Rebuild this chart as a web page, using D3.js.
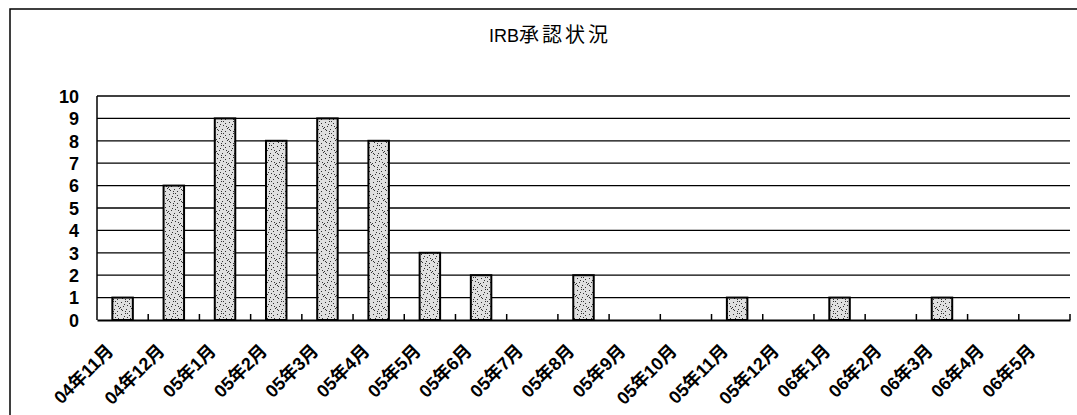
<!DOCTYPE html>
<html><head><meta charset="utf-8">
<script src="https://cdn.jsdelivr.net/npm/d3@7"></script>
<style>body{margin:0;background:#fff}</style>
</head><body>
<svg id="c" width="1077" height="415"></svg>
<script>
const categories = ["04年11月","04年12月","05年1月","05年2月","05年3月","05年4月","05年5月","05年6月","05年7月","05年8月","05年9月","05年10月","05年11月","05年12月","06年1月","06年2月","06年3月","06年4月","06年5月"];
const values = [1,6,9,8,9,8,3,2,0,2,0,0,1,0,1,0,1,0,0];
const yTicks = [0,1,2,3,4,5,6,7,8,9,10];
const titleLatin = "IRB";
const titleKanji = "承認状況";

const svg = d3.select("#c");
const m = {l:97, r:1070, t:96, b:320};
const font = "'Liberation Sans', Arial, 'Noto Sans CJK JP', sans-serif";

// stipple pattern
const defs = svg.append("defs");
const pat = defs.append("pattern").attr("id","stip").attr("patternUnits","userSpaceOnUse").attr("width",12).attr("height",12);
pat.append("rect").attr("width",12).attr("height",12).attr("fill","#e0e0e0");
const dots = [[1,2],[5,1],[9,3],[3,6],[7,5],[11,8],[2,10],[6,9],[9,11],[4,4],[10,6],[0,7],[7,1],[1,9],[5,11]];
dots.forEach(d=>pat.append("rect").attr("x",d[0]).attr("y",d[1]).attr("width",1).attr("height",1).attr("fill","#333"));

// outer frame
svg.append("path").attr("d","M10,415 V9 H1077").attr("fill","none").attr("stroke","#000").attr("stroke-width",1.5);

const t = svg.append("text").attr("x",550).attr("y",42).attr("text-anchor","middle")
  .attr("font-family",font).attr("font-size",20);
t.append("tspan").attr("font-size",18).text(titleLatin);
t.append("tspan").attr("letter-spacing",3).text(titleKanji);

const x = d3.scaleBand().domain(categories).range([m.l,m.r]).paddingInner(0.6).paddingOuter(0.3);
const xb = d3.scaleBand().domain(categories).range([m.l,m.r]);
const y = d3.scaleLinear().domain([0,10]).range([m.b,m.t]);

// grid
svg.append("g").selectAll("line").data(yTicks.filter(d=>d>0)).join("line")
  .attr("x1",m.l).attr("x2",m.r).attr("y1",d=>y(d)).attr("y2",d=>y(d))
  .attr("stroke","#000").attr("stroke-width",1.3);
svg.append("line").attr("x1",m.l).attr("x2",m.l).attr("y1",m.t).attr("y2",m.b).attr("stroke","#000").attr("stroke-width",1.5);

// y axis labels
const ya = svg.append("g").attr("transform",`translate(${m.l},0)`)
  .call(d3.axisLeft(y).tickValues(yTicks).tickSize(0).tickPadding(18).tickFormat(d3.format("d")));
ya.select(".domain").remove();
ya.selectAll("text").attr("font-family",font).attr("font-size",18).attr("font-weight","bold").attr("fill","#000").attr("dy","0.35em");

// bars
const barData = values.map((v,i)=>({c:categories[i],v})).filter(d=>d.v>0);
svg.append("g").selectAll("rect").data(barData).join("rect")
  .attr("x",d=>x(d.c)).attr("width",x.bandwidth())
  .attr("y",d=>y(d.v)).attr("height",d=>y(0)-y(d.v))
  .attr("fill","url(#stip)").attr("stroke","#000").attr("stroke-width",2);

// x axis
const xa = svg.append("g").attr("transform",`translate(0,${m.b})`)
  .call(d3.axisBottom(xb).tickSize(0).tickPadding(0));
xa.select(".domain").attr("stroke","#000").attr("stroke-width",2);
xa.selectAll("text").attr("font-family",font).attr("font-size",18).attr("font-weight","bold").attr("fill","#000")
  .attr("text-anchor","end").attr("dy",0)
  .attr("transform","translate(-8,32) rotate(-45)");
// inner tick marks at band boundaries
svg.append("g").selectAll("line").data(categories.slice(1).concat(["end"])).join("line")
  .attr("x1",(d,i)=> i<categories.length-1 ? xb(d) : m.r).attr("x2",(d,i)=> i<categories.length-1 ? xb(d) : m.r)
  .attr("y1",m.b-6).attr("y2",m.b).attr("stroke","#000").attr("stroke-width",1.5);
</script>
</body></html>
